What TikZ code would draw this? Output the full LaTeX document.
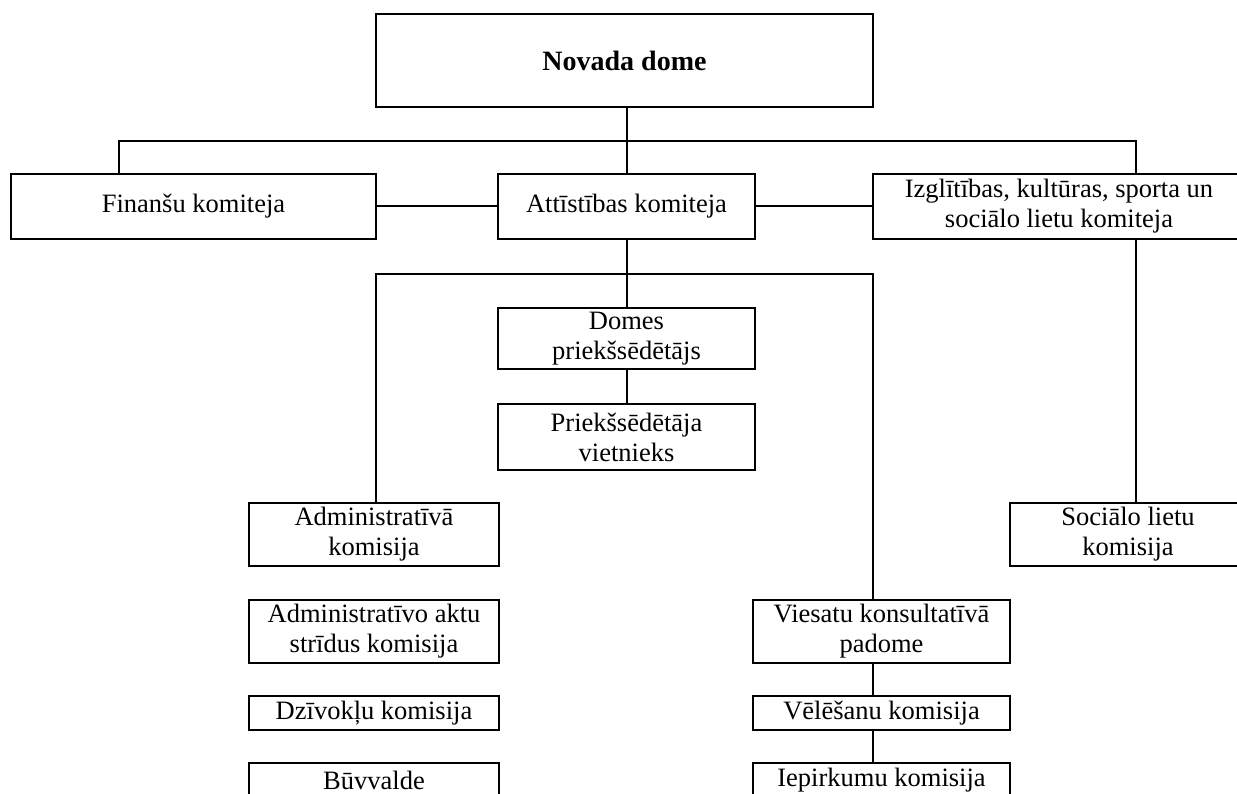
\documentclass[tikz,border=0pt]{standalone}
\usepackage{fontspec}
\setmainfont{Liberation Serif}
\begin{document}
\begin{tikzpicture}[x=1pt,y=-1pt,
  box/.style={draw=black, line width=2pt, inner sep=0pt, outer sep=0pt, anchor=north west,
    align=center, font=\fontsize{26.5}{30}\selectfont},
  conn/.style={draw=black, line width=2pt}]
\useasboundingbox (0,0) rectangle (1237,794);
\fill[white] (0,0) rectangle (1237,794);
\clip (0,0) rectangle (1237,794);
% nodes
\node[box, minimum width=497pt, minimum height=93pt, font=\fontsize{28}{30}\selectfont\bfseries] (nov) at (376,14) {Novada dome};
\node[box, minimum width=365pt, minimum height=65pt] (fin) at (11,174) {Finanšu komiteja};
\node[box, minimum width=257pt, minimum height=65pt] (att) at (498,174) {Attīstības komiteja};
\node[box, minimum width=372pt, minimum height=65pt] (izg) at (873,174) {Izglītības, kultūras, sporta un\\sociālo lietu komiteja};
\node[box, minimum width=257pt, minimum height=61pt] (dom) at (498,308) {Domes\\priekšsēdētājs};
\node[box, minimum width=257pt, minimum height=66pt] (pri) at (498,404) {Priekšsēdētāja\\vietnieks};
\node[box, minimum width=250pt, minimum height=63pt] (adm) at (249,503) {Administratīvā\\komisija};
\node[box, minimum width=236pt, minimum height=63pt] (soc) at (1010,503) {Sociālo lietu\\komisija};
\node[box, minimum width=250pt, minimum height=63pt] (akt) at (249,600) {Administratīvo aktu\\strīdus komisija};
\node[box, minimum width=250pt, minimum height=34pt] (dzi) at (249,696) {Dzīvokļu komisija};
\node[box, minimum width=250pt, minimum height=34pt] (buv) at (249,763) {Būvvalde};
\node[box, minimum width=257pt, minimum height=63pt] (vie) at (753,600) {Viesatu konsultatīvā\\padome};
\node[box, minimum width=257pt, minimum height=34pt] (vel) at (753,696) {Vēlēšanu komisija};
\node[box, minimum width=257pt, minimum height=34pt] (iep) at (753,763) {Iepirkumu komisija};
% bus coordinates
\coordinate (busL) at (119,141);
\coordinate (busR) at (1136,141);
\coordinate (b2L) at (376,274);
\coordinate (b2R) at (873,274);
% connectors
\draw[conn] (att.north) -- (att.north |- nov.south);
\draw[conn] (fin.north -| busL) -- (busL) -- (busR) -- (izg.north -| busR);
\draw[conn] (fin.east) -- (att.west);
\draw[conn] (att.east) -- (izg.west);
\draw[conn] (att.south) -- (dom.north);
\draw[conn] (adm.north -| b2L) -- (b2L) -- (b2R) -- (vie.north -| b2R);
\draw[conn] (dom.south) -- (pri.north);
\draw[conn] (izg.south -| busR) -- (soc.north -| busR);
\draw[conn] (vie.south -| b2R) -- (vel.north -| b2R);
\draw[conn] (vel.south -| b2R) -- (iep.north -| b2R);
\end{tikzpicture}
\end{document}
